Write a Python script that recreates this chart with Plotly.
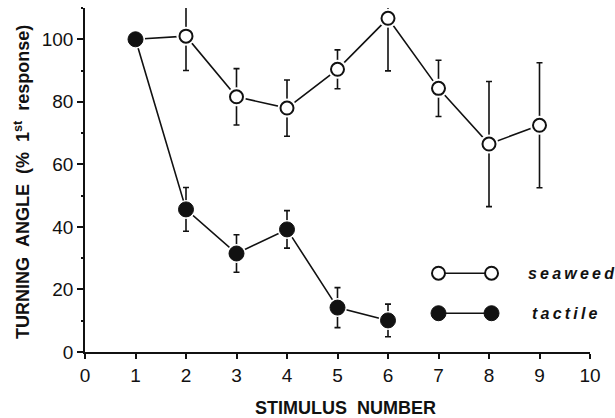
import plotly.graph_objects as go

# Turning angle (% of first response) by stimulus number, mean ± error
seaweed_x = [1, 2, 3, 4, 5, 6, 7, 8, 9]
seaweed_y = [100, 101, 81.6, 78, 90.4, 106.7, 84.3, 66.5, 72.5]
seaweed_err = [0, 11, 9, 9, 6.2, 16.8, 9, 20, 20]

tactile_x = [1, 2, 3, 4, 5, 6]
tactile_y = [100, 45.6, 31.5, 39.2, 14.2, 10.1]
tactile_err = [0, 7, 6, 6, 6.4, 5.2]

x_ticks = list(range(0, 11))
y_ticks = list(range(0, 101, 20))

FONT = "Liberation Sans, Arial, Helvetica, sans-serif"
INK = "#111111"

fig = go.Figure()


def add_series(xs, ys, errs, filled):
    # connecting line and error bars underneath
    fig.add_trace(go.Scatter(
        x=xs, y=ys, mode="lines",
        line=dict(color=INK, width=1.6),
        error_y=dict(type="data", array=errs, visible=True,
                     color=INK, thickness=1.6, width=3),
        showlegend=False, hoverinfo="skip"))
    # white halo that opens a small gap around each marker
    fig.add_trace(go.Scatter(
        x=xs, y=ys, mode="markers",
        marker=dict(symbol="circle", size=19, color="white",
                    line=dict(width=0)),
        showlegend=False, hoverinfo="skip"))
    # the markers themselves
    if filled:
        mk = dict(symbol="circle", size=15, color=INK,
                  line=dict(color=INK, width=1))
    else:
        mk = dict(symbol="circle", size=13, color="white",
                  line=dict(color=INK, width=2))
    fig.add_trace(go.Scatter(x=xs, y=ys, mode="markers", marker=mk,
                             showlegend=False))


add_series(seaweed_x, seaweed_y, seaweed_err, filled=False)
add_series(tactile_x, tactile_y, tactile_err, filled=True)

# key: marker — marker, with spaced bold italic labels
key = [("seaweed", 25.2, False, 8.74), ("tactile", 12.4, True, 8.82)]
for name, ky, filled, tx in key:
    fig.add_shape(type="line", x0=7.0, x1=8.05, y0=ky, y1=ky,
                  xref="x", yref="y", line=dict(color=INK, width=1.6))
    r = 7.5 if filled else 6.5
    for kx in (7.0, 8.05):
        fig.add_shape(type="circle", xref="x", yref="y",
                      xsizemode="pixel", ysizemode="pixel",
                      xanchor=kx, yanchor=ky,
                      x0=-r, x1=r, y0=-r, y1=r,
                      fillcolor=INK if filled else "white",
                      line=dict(color=INK, width=1 if filled else 2))
    spaced = "\u2009".join(name)
    fig.add_annotation(x=tx, y=ky, xref="x", yref="y", text=f"<b><i>{spaced}</i></b>",
                       showarrow=False, xanchor="left", yanchor="middle",
                       font=dict(family=FONT, size=16, color=INK))

# axis titles
fig.add_annotation(
    x=0, y=0.494, xref="paper", yref="paper", xshift=-63,
    text="<b>TURNING\u00a0\u00a0ANGLE\u00a0\u00a0(%\u00a0\u00a01<sup>st</sup>\u00a0\u00a0response)</b>",
    textangle=-90, showarrow=False, xanchor="center", yanchor="middle",
    font=dict(family=FONT, size=18, color=INK))
fig.add_annotation(
    x=0.5, y=0, xref="paper", yref="paper", xshift=8, yshift=-56,
    text="<b>STIMULUS\u00a0\u00a0NUMBER</b>",
    showarrow=False, xanchor="center", yanchor="middle",
    font=dict(family=FONT, size=18, color=INK))

tick_font = dict(family=FONT, size=19, color=INK)

fig.update_layout(
    width=615, height=418,
    margin=dict(l=85, r=25, t=8, b=66),
    paper_bgcolor="white", plot_bgcolor="white",
    font=dict(family=FONT, size=18, color=INK),
    showlegend=False,
    xaxis=dict(range=[0, 10], tickvals=x_ticks, ticktext=[str(v) for v in x_ticks],
               tickfont=tick_font,
               showgrid=False, zeroline=False, showline=True,
               linecolor=INK, linewidth=1.6, ticks="outside", ticklen=5,
               tickwidth=1.6, tickcolor=INK, fixedrange=True),
    yaxis=dict(range=[0, 110], tickvals=y_ticks, ticktext=[str(v) for v in y_ticks],
               tickfont=tick_font,
               showgrid=False, zeroline=False, showline=True,
               linecolor=INK, linewidth=1.6, ticks="outside", ticklen=6,
               tickwidth=1.6, tickcolor=INK,
               minor=dict(dtick=10, ticks="outside", ticklen=2.5, tickwidth=1.6,
                          tickcolor=INK, showgrid=False),
               fixedrange=True),
)

fig.write_html("out.html")
